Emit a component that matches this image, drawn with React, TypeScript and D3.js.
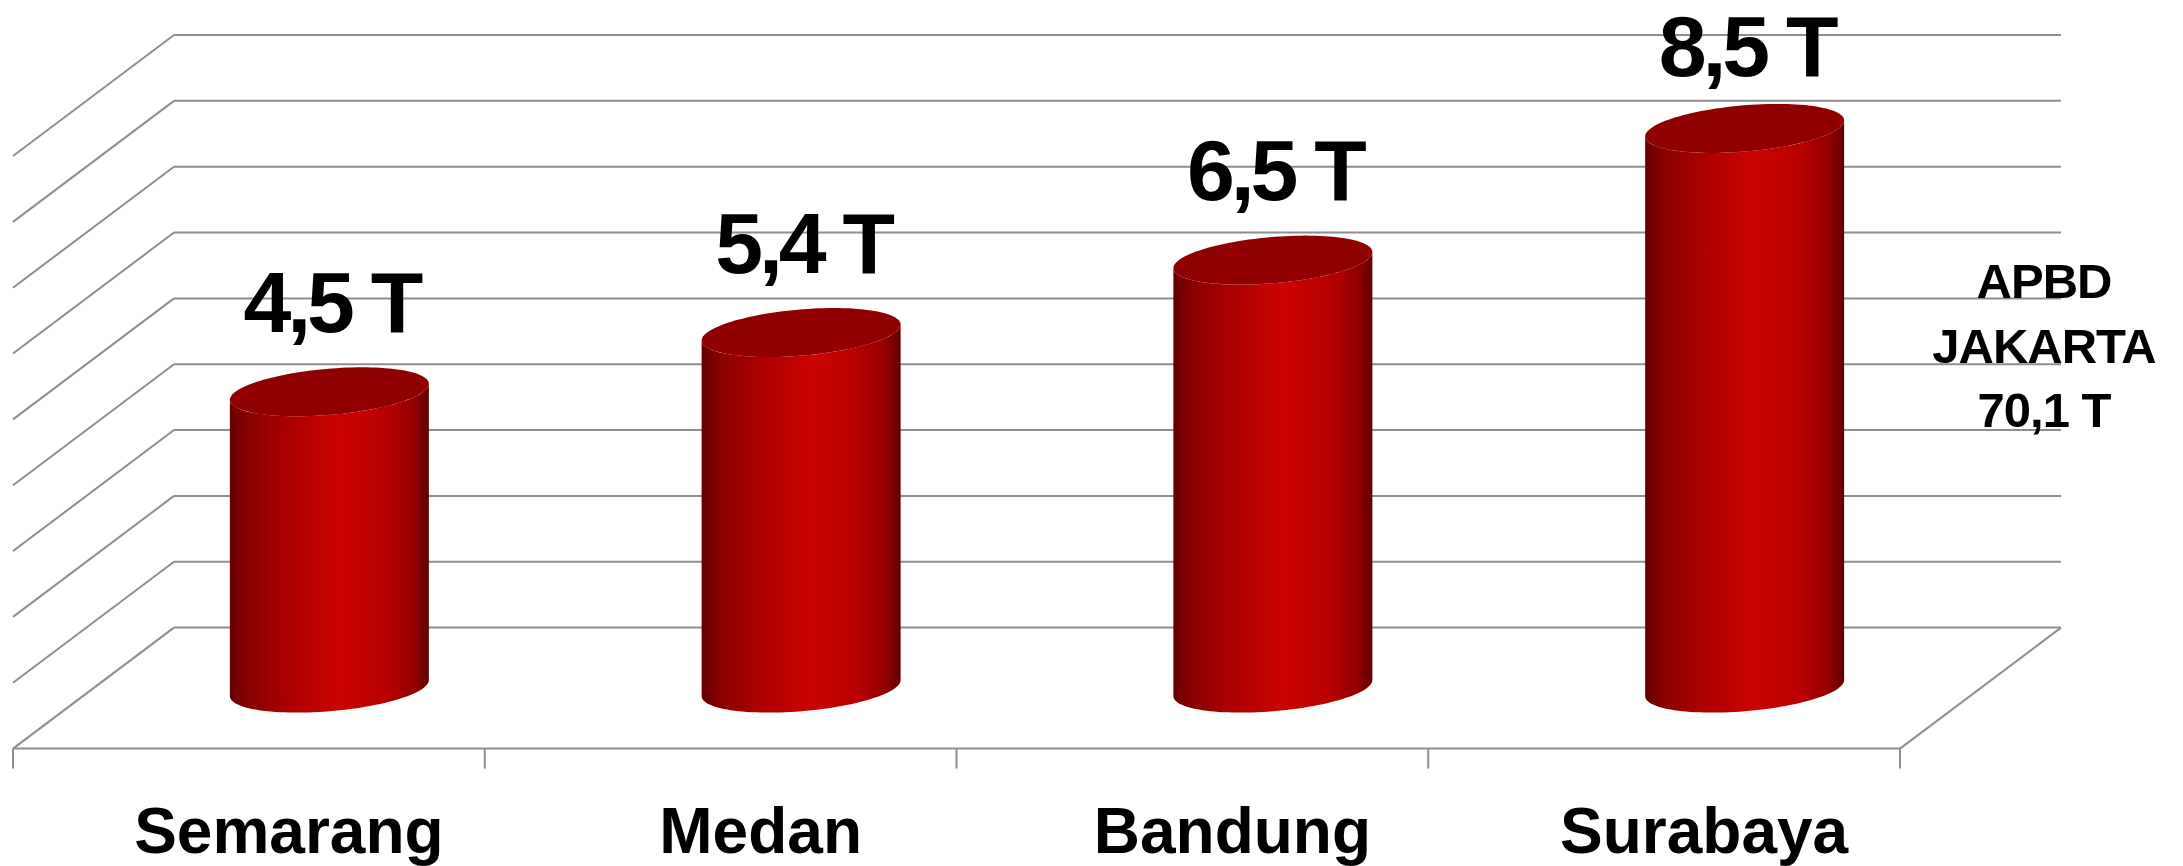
import React from "react";
import * as d3 from "d3";

const categories: string[] = ["Semarang", "Medan", "Bandung", "Surabaya"];
const values: number[] = [4.5, 5.4, 6.5, 8.5];
const valueLabels: string[] = ["4,5 T", "5,4 T", "6,5 T", "8,5 T"];
const gridTicks: number[] = [0, 1, 2, 3, 4, 5, 6, 7, 8, 9];
const noteLines: string[] = ["APBD", "JAKARTA", "70,1 T"];

const W = 2183;
const H = 866;
// depth offset from back wall to front floor edge
const DX = -161;
const DY = 121;
const backLeft = 174;
const backRight = 2061;

const yScale = d3.scaleLinear().domain([0, 9]).range([627.6, 35]);
const xFront = d3
  .scaleBand<string>()
  .domain(categories)
  .range([backLeft + DX, backRight + DX])
  .padding(0);

const GRID = "#8e8e8e";
const FONT = "'Liberation Sans', Arial, sans-serif";

// cylinder ellipse params (oblique projection)
const A = 94;
const B = 32.6;
const C = 24.5;
const T0 = Math.atan2(B, A);

function ellPt(cx: number, cy: number, t: number): [number, number] {
  return [cx + A * Math.cos(t) + B * Math.sin(t), cy - C * Math.sin(t)];
}

function arcPts(cx: number, cy: number, t1: number, t2: number, n = 60): [number, number][] {
  const pts: [number, number][] = [];
  for (let i = 0; i <= n; i++) {
    const t = t1 + ((t2 - t1) * i) / n;
    pts.push(ellPt(cx, cy, t));
  }
  return pts;
}

const line = d3.line<[number, number]>().x((d) => d[0]).y((d) => d[1]);

export default function App() {
  const midX = (c: string) => (xFront(c) as number) + xFront.bandwidth() / 2;
  return (
    <svg
      width={W}
      height={H}
      style={{ position: "absolute", left: 0, top: 0, background: "#fff" }}
    >
      <defs>
        <linearGradient id="cyl" x1="0" x2="1" y1="0" y2="0">
          <stop offset="0" stopColor="#650000" />
          <stop offset="0.08" stopColor="#860000" />
          <stop offset="0.3" stopColor="#ae0000" />
          <stop offset="0.55" stopColor="#cc0303" />
          <stop offset="0.78" stopColor="#b80000" />
          <stop offset="0.92" stopColor="#950000" />
          <stop offset="1" stopColor="#600000" />
        </linearGradient>
      </defs>
      {/* back wall gridlines + left wall diagonals */}
      {gridTicks.map((t) => {
        const y = yScale(t);
        return (
          <g key={t}>
            <line x1={backLeft} x2={backRight} y1={y} y2={y} stroke={GRID} strokeWidth={2} />
            <line x1={backLeft} x2={backLeft + DX} y1={y} y2={y + DY} stroke={GRID} strokeWidth={2} />
          </g>
        );
      })}
      {/* floor */}
      <line x1={backLeft + DX} x2={backRight + DX} y1={yScale(0) + DY} y2={yScale(0) + DY} stroke={GRID} strokeWidth={2} />
      <line x1={backRight} x2={backRight + DX} y1={yScale(0)} y2={yScale(0) + DY} stroke={GRID} strokeWidth={2} />
      {[...categories.map((c) => xFront(c) as number), backRight + DX].map((x, i) => (
        <line key={i} x1={x} x2={x} y1={yScale(0) + DY} y2={yScale(0) + DY + 20} stroke={GRID} strokeWidth={2} />
      ))}
      {/* cylinders */}
      {categories.map((c, i) => {
        const cx = midX(c) - DX / 2;
        const cyTop = yScale(values[i]) + DY / 2;
        const cyBot = yScale(0) + DY / 2;
        const tl = Math.PI + T0;
        const tr = 2 * Math.PI + T0;
        const bodyPts: [number, number][] = [
          ...arcPts(cx, cyBot, tl, tr),
          ...arcPts(cx, cyTop, tr, tl),
        ];
        const topPts = arcPts(cx, cyTop, 0, 2 * Math.PI, 120);
        const labelY = Math.max(cyTop - 60, 76);
        return (
          <g key={c}>
            <path d={(line(bodyPts) as string) + "Z"} fill="url(#cyl)" />
            <path d={(line(topPts) as string) + "Z"} fill="#900000" />
            <text
              x={cx + 2}
              y={labelY}
              textAnchor="middle"
              fontFamily={FONT}
              fontWeight="bold"
              fontSize={86}
              letterSpacing={-4}
              fill="#000"
            >
              {valueLabels[i]}
            </text>
            <text
              x={midX(c) + 40}
              y={853}
              textAnchor="middle"
              fontFamily={FONT}
              fontWeight="bold"
              fontSize={64}
              fill="#000"
            >
              {c}
            </text>
          </g>
        );
      })}
      {/* note */}
      {noteLines.map((s, i) => (
        <text
          key={s}
          x={2044}
          y={298 + i * 64.5}
          textAnchor="middle"
          fontFamily={FONT}
          fontWeight="bold"
          fontSize={49}
          letterSpacing={-1}
          fill="#000"
        >
          {s}
        </text>
      ))}
    </svg>
  );
}
